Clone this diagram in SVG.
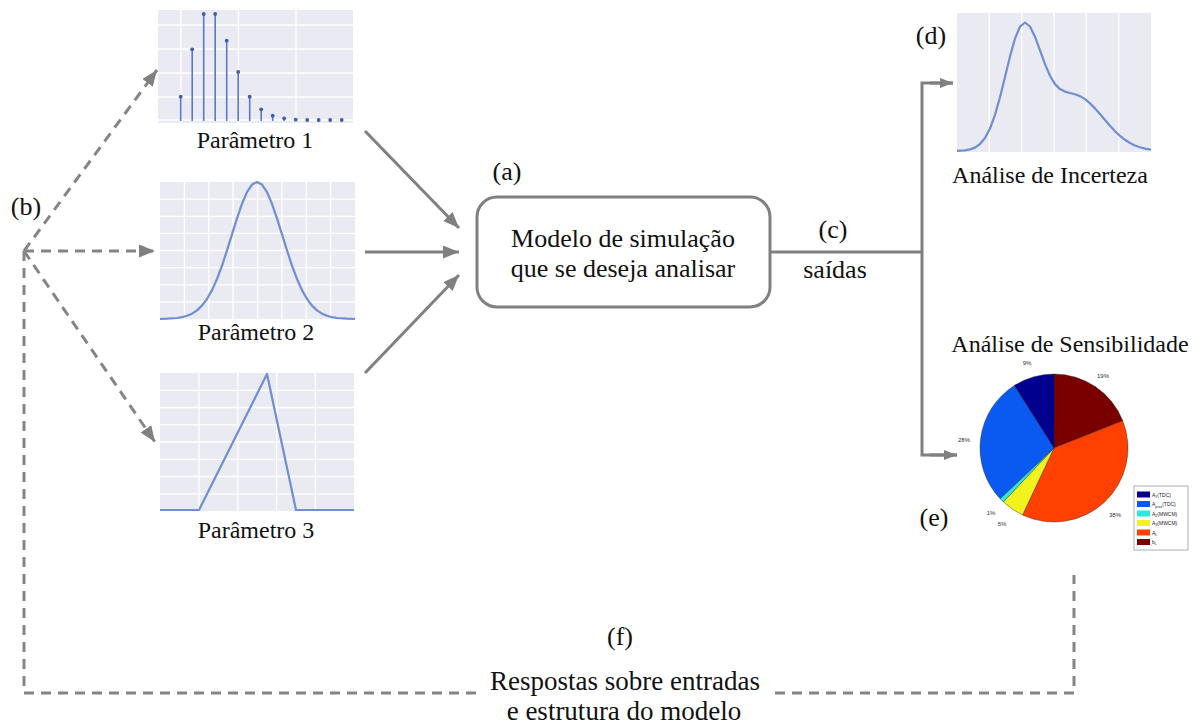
<svg xmlns="http://www.w3.org/2000/svg" width="1201" height="726" viewBox="0 0 1201 726">
<defs>
<style>
.t{font-family:"Liberation Serif","Times New Roman",serif;fill:#111;}
.bg{fill:#eaeaf2;}
.grid{stroke:#fff;stroke-width:1.3;fill:none;}
.curve{fill:none;stroke:#6f8fd0;stroke-width:2.2;stroke-linejoin:round;}
.stem{stroke:#5a78c8;stroke-width:1.6;}
.mk{fill:#3e5caa;}
.conn{stroke:#808080;stroke-width:3;fill:none;}
.dash{stroke:#858585;stroke-dasharray:10 7;}
.pct{font-family:"Liberation Sans",Arial,sans-serif;font-size:6px;fill:#333;text-anchor:middle;}
.lg{font-family:"Liberation Sans",Arial,sans-serif;font-size:5px;fill:#222;}
</style>
<marker id="ah" markerUnits="userSpaceOnUse" markerWidth="18" markerHeight="14" refX="16" refY="6.5" orient="auto">
<path d="M0,0 L16,6.5 L0,13 Z" fill="#808080"/>
</marker>
<marker id="ahs" markerUnits="userSpaceOnUse" markerWidth="14" markerHeight="12" refX="13" refY="5" orient="auto">
<path d="M0,0 L13,5 L0,10 Z" fill="#808080"/>
</marker>
</defs>
<rect width="1201" height="726" fill="#fff"/>

<g id="param1">
<rect class="bg" x="158" y="10" width="195" height="113"/>
<path class="grid" d="M181,10V123 M238.5,10V123 M296,10V123 M158,25H353 M158,49H353 M158,73H353 M158,97H353 M158,120H353"/>
<g class="stem">
<line x1="180.7" y1="121" x2="180.7" y2="96.7"/>
<line x1="192.2" y1="121" x2="192.2" y2="49.3"/>
<line x1="203.7" y1="121" x2="203.7" y2="14"/>
<line x1="215.2" y1="121" x2="215.2" y2="14"/>
<line x1="226.7" y1="121" x2="226.7" y2="40.7"/>
<line x1="238.2" y1="121" x2="238.2" y2="72"/>
<line x1="249.7" y1="121" x2="249.7" y2="96.7"/>
<line x1="261.2" y1="121" x2="261.2" y2="109.3"/>
<line x1="272.7" y1="121" x2="272.7" y2="115.7"/>
<line x1="284.2" y1="121" x2="284.2" y2="118.3"/>
</g>
<g class="mk">
<circle cx="180.7" cy="96.7" r="1.9"/><circle cx="192.2" cy="49.3" r="1.9"/><circle cx="203.7" cy="14" r="1.9"/>
<circle cx="215.2" cy="14" r="1.9"/><circle cx="226.7" cy="40.7" r="1.9"/><circle cx="238.2" cy="72" r="1.9"/>
<circle cx="249.7" cy="96.7" r="1.9"/><circle cx="261.2" cy="109.3" r="1.9"/><circle cx="272.7" cy="115.7" r="1.9"/>
<circle cx="284.2" cy="118.3" r="1.9"/><circle cx="295.7" cy="119.7" r="1.9"/><circle cx="307.2" cy="120" r="1.9"/>
<circle cx="318.7" cy="120" r="1.9"/><circle cx="330.2" cy="120" r="1.9"/><circle cx="341.7" cy="120" r="1.9"/>
</g>
<text class="t" x="255" y="148" font-size="24" text-anchor="middle">Parâmetro 1</text>
</g>

<g id="param2">
<rect class="bg" x="160" y="182" width="195" height="137"/>
<path class="grid" d="M184.4,182V319 M208.8,182V319 M233.1,182V319 M257.5,182V319 M281.9,182V319 M306.3,182V319 M330.6,182V319 M160,199.1H355 M160,216.3H355 M160,233.4H355 M160,250.5H355 M160,267.6H355 M160,284.8H355 M160,301.9H355"/>
<polyline class="curve" points="160,319 167,318.7 177,318 182,317.2 187,315.8 192,313.7 197,310.4 202,305.6 207,299 212,290.1 217,279 222,265.6 227,250.4 232,234.3 237,218.3 242,203.8 247,192.1 252,184.6 257,182 262,184.6 267,192.1 272,203.8 277,218.3 282,234.3 287,250.4 292,265.6 297,279 302,290.1 307,299 312,305.6 317,310.4 322,313.7 327,315.8 332,317.2 337,318 347,318.7 355,319"/>
<text class="t" x="256" y="340" font-size="24" text-anchor="middle">Parâmetro 2</text>
</g>

<g id="param3">
<rect class="bg" x="160" y="373" width="194" height="138"/>
<path class="grid" d="M199,373V511 M237.8,373V511 M276.6,373V511 M315.4,373V511 M160,390.3H354 M160,407.5H354 M160,424.8H354 M160,442H354 M160,459.3H354 M160,476.5H354 M160,493.8H354"/>
<polyline class="curve" points="160,510 199,510 267,374 296,510 354,510"/>
<text class="t" x="256" y="538" font-size="24" text-anchor="middle">Parâmetro 3</text>
</g>

<g id="model">
<rect x="477" y="197" width="293" height="110" rx="20" ry="20" fill="#fff" stroke="#808080" stroke-width="3"/>
<text class="t" x="623" y="247" font-size="26" text-anchor="middle">Modelo de simulação</text>
<text class="t" x="623" y="277" font-size="26" text-anchor="middle">que se deseja analisar</text>
</g>

<g id="uncertainty">
<rect class="bg" x="957" y="13" width="194" height="139"/>
<path class="grid" d="M989.3,13V152 M1021.7,13V152 M1054,13V152 M1086.3,13V152 M1118.7,13V152"/>
<polyline class="curve" points="957,150.9 965,150.3 970,149.4 975,147.6 980,144 985,138 990,128.5 995,114.9 1000,97.3 1005,77 1010,56.4 1015,38.6 1020,26.6 1025,22.5 1030,26.5 1035,36.7 1040,50.3 1045,64.1 1050,75.8 1055,84.1 1060,89.1 1065,91.6 1070,93 1075,94.2 1080,96.1 1085,99.1 1090,103.4 1095,108.4 1100,114.1 1105,120 1110,125.8 1115,131.2 1120,135.9 1125,139.8 1130,143 1135,145.5 1140,147.3 1145,148.6 1151,149.6"/>
<text class="t" x="1050" y="183" font-size="24" text-anchor="middle">Análise de Incerteza</text>
</g>

<g id="sensitivity">
<text class="t" x="1070" y="352" font-size="24" text-anchor="middle">Análise de Sensibilidade</text>
<g stroke="#222" stroke-width="0.4">
<path d="M1054,448 L1054,374 A74,74 0 0 1 1122.8,420.8 Z" fill="#7a0000"/>
<path d="M1054,448 L1122.8,420.8 A74,74 0 0 1 1022.5,515 Z" fill="#ff4000"/>
<path d="M1054,448 L1022.5,515 A74,74 0 0 1 1003.3,501.9 Z" fill="#f2f21c"/>
<path d="M1054,448 L1003.3,501.9 A74,74 0 0 1 1000.1,498.7 Z" fill="#2ee8e0"/>
<path d="M1054,448 L1000.1,498.7 A74,74 0 0 1 1014.4,385.5 Z" fill="#0a5af2"/>
<path d="M1054,448 L1014.4,385.5 A74,74 0 0 1 1054,374 Z" fill="#00008f"/>
</g>
<text class="pct" x="1027" y="365">9%</text>
<text class="pct" x="1103" y="378">19%</text>
<text class="pct" x="964" y="442">28%</text>
<text class="pct" x="991" y="515">1%</text>
<text class="pct" x="1002" y="526">5%</text>
<text class="pct" x="1115" y="517">38%</text>
<rect x="1134" y="486" width="54" height="64" fill="#fff" stroke="#999" stroke-width="0.8"/>
<rect x="1137" y="491.5" width="13" height="6" fill="#00008f"/>
<rect x="1137" y="501" width="13" height="6" fill="#0a5af2"/>
<rect x="1137" y="510.5" width="13" height="6" fill="#2ee8e0"/>
<rect x="1137" y="520" width="13" height="6" fill="#f2f21c"/>
<rect x="1137" y="529.5" width="13" height="6" fill="#ff4000"/>
<rect x="1137" y="539" width="13" height="6" fill="#7a0000"/>
<text class="lg" x="1152" y="496.5">A<tspan font-size="3.5" dy="1.2">1</tspan><tspan dy="-1.2">(TDC)</tspan></text>
<text class="lg" x="1152" y="506">A<tspan font-size="3.5" dy="1.5">prox</tspan><tspan dy="-1.5">(TDC)</tspan></text>
<text class="lg" x="1152" y="515.5">A<tspan font-size="3.5" dy="1.2">2</tspan><tspan dy="-1.2">(MWCM)</tspan></text>
<text class="lg" x="1152" y="525">A<tspan font-size="3.5" dy="1.2">3</tspan><tspan dy="-1.2">(MWCM)</tspan></text>
<text class="lg" x="1152" y="534.5">A<tspan font-size="3.5" dy="1.2">L</tspan></text>
<text class="lg" x="1152" y="544">b<tspan font-size="3.5" dy="1.2">L</tspan></text>
</g>

<g id="labels">
<text class="t" x="507" y="180" font-size="26" text-anchor="middle">(a)</text>
<text class="t" x="26" y="215" font-size="26" text-anchor="middle">(b)</text>
<text class="t" x="833" y="238" font-size="26" text-anchor="middle">(c)</text>
<text class="t" x="835" y="278" font-size="26" text-anchor="middle">saídas</text>
<text class="t" x="931" y="44" font-size="26" text-anchor="middle">(d)</text>
<text class="t" x="934" y="526" font-size="26" text-anchor="middle">(e)</text>
<text class="t" x="620" y="645" font-size="26" text-anchor="middle">(f)</text>
<text class="t" x="625" y="690" font-size="27" text-anchor="middle">Respostas sobre entradas</text>
<text class="t" x="624" y="720" font-size="27" text-anchor="middle">e estrutura do modelo</text>
</g>

<g id="connectors">
<line class="conn" x1="365" y1="131" x2="459" y2="228" marker-end="url(#ah)"/>
<line class="conn" x1="365" y1="252" x2="459" y2="252" marker-end="url(#ah)"/>
<line class="conn" x1="365" y1="373" x2="459" y2="275" marker-end="url(#ah)"/>
<polyline class="conn" points="770,252 922,252"/>
<polyline class="conn" points="953,83 922,83 922,455 957,455"/>
<line class="conn" x1="930" y1="83" x2="953" y2="83" marker-end="url(#ahs)"/>
<line class="conn" x1="930" y1="455" x2="957" y2="455" marker-end="url(#ahs)"/>
<line class="conn dash" x1="24" y1="251" x2="157" y2="70" marker-end="url(#ah)"/>
<line class="conn dash" x1="24" y1="251" x2="155" y2="251" marker-end="url(#ah)"/>
<line class="conn dash" x1="24" y1="251" x2="155" y2="442" marker-end="url(#ah)"/>
<polyline class="conn dash" points="24,251 24,693 478,693"/>
<polyline class="conn dash" points="775,693 1074,693 1074,575"/>
</g>
</svg>
